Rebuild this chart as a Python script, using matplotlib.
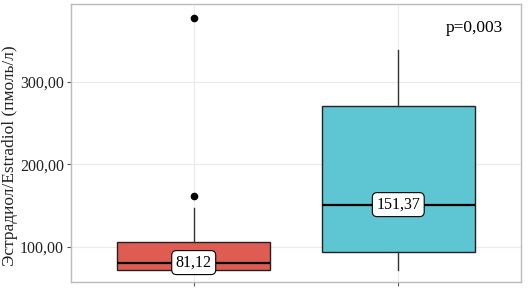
import matplotlib.pyplot as plt
from matplotlib.ticker import FuncFormatter

# box statistics
groups = [1, 2]
q1 = [72, 94]
medians = [81.12, 151.37]
q3 = [106, 271]
whisk_lo = [72, 72]
whisk_hi = [147, 339]
outliers = [[162, 378], []]
colors = ['#DE5C52', '#5EC6D3']
yticks = [100, 200, 300]
p_text = 'p=0,003'
ylabel = 'Эстрадиол/Estradiol (пмоль/л)'

plt.rcParams['font.family'] = ['Liberation Serif', 'DejaVu Serif']

fig = plt.figure(figsize=(5.31, 2.89), dpi=100)
ax = fig.add_axes([71 / 531, 7 / 289, 450 / 531, 278 / 289])

stats = []
for i in range(len(groups)):
    stats.append(dict(med=medians[i], q1=q1[i], q3=q3[i],
                      whislo=whisk_lo[i], whishi=whisk_hi[i], fliers=outliers[i]))

bp = ax.bxp(stats, positions=groups, widths=0.75, patch_artist=True,
            showcaps=False, zorder=3,
            medianprops=dict(color='black', linewidth=1.6),
            whiskerprops=dict(color='#333333', linewidth=1.0),
            boxprops=dict(edgecolor='#222222', linewidth=1.0),
            flierprops=dict(marker='o', markerfacecolor='black', markeredgecolor='black',
                            markersize=4.5))
for patch, c in zip(bp['boxes'], colors):
    patch.set_facecolor(c)

for x, m in zip(groups, medians):
    ax.text(x, m, f'{m:.2f}'.replace('.', ','), ha='center', va='center', fontsize=11.5,
            zorder=5,
            bbox=dict(boxstyle='round,pad=0.25,rounding_size=0.3', facecolor='white',
                      edgecolor='black', linewidth=0.8))

ax.text(0.96, 0.885, p_text, transform=ax.transAxes, ha='right', va='bottom', fontsize=12.5)

ax.set_xlim(0.4, 2.6)
ax.set_ylim(57.6, 394.5)
ax.set_xticks(groups)
ax.set_xticklabels([])
ax.set_yticks(yticks)
ax.yaxis.set_major_formatter(FuncFormatter(lambda v, _: f'{v:.2f}'.replace('.', ',')))
ax.tick_params(axis='y', labelsize=11.5, length=3, pad=2, color='#555555', labelcolor='#222222')
ax.tick_params(axis='x', length=3, color='#555555')
ax.set_ylabel(ylabel, fontsize=12.5, color='#222222')
ax.yaxis.set_label_coords(-0.117, 0.455)
ax.grid(True, color='#EBEBEB', linewidth=0.8, zorder=0)
ax.set_axisbelow(True)
for s in ax.spines.values():
    s.set_color('#BBBBBB')
    s.set_linewidth(1.0)

fig.savefig('out.png', dpi=100)
